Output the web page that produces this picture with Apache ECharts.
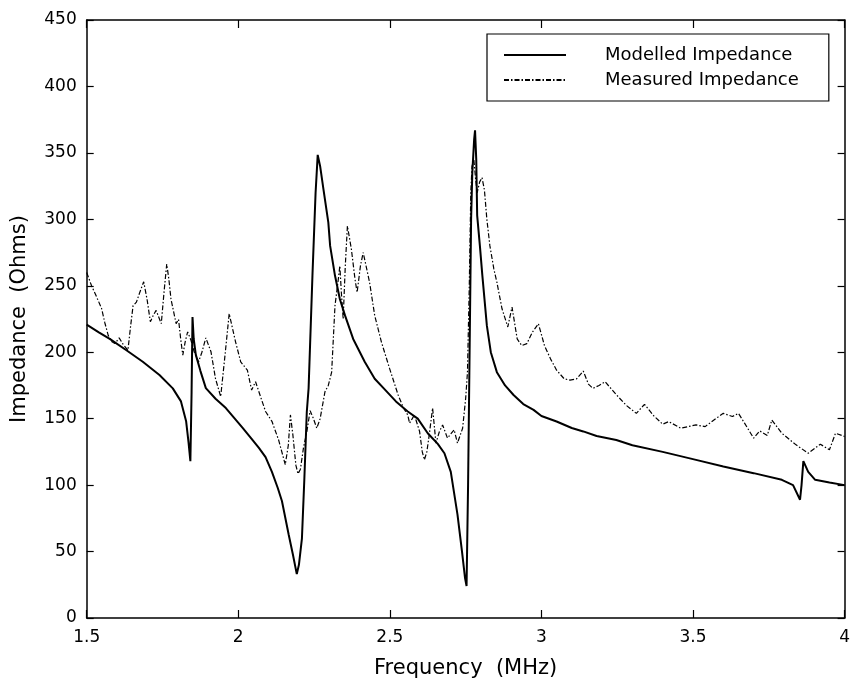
<!DOCTYPE html>
<html>
<head>
<meta charset="utf-8">
<script src="https://cdn.jsdelivr.net/npm/echarts@6/dist/echarts.min.js"></script>
<style>
html,body{margin:0;padding:0;background:#fff;}
#chart{width:853px;height:684px;}
</style>
</head>
<body>
<div id="chart"></div>
<script>
// Frequency ticks and impedance ticks
const xTicks = [1.5, 2, 2.5, 3, 3.5, 4];
const yTicks = [0, 50, 100, 150, 200, 250, 300, 350, 400, 450];

const seriesNames = ['Modelled Impedance', 'Measured Impedance'];

// Modelled impedance (MHz, Ohms)
const modelledFreq = [1.500,1.540,1.576,1.631,1.685,1.740,1.784,1.811,1.828,1.836,1.842,1.846,1.849,1.853,1.860,1.875,1.893,1.925,1.959,2.013,2.040,2.068,2.090,2.111,2.130,2.144,2.166,2.180,2.193,2.200,2.210,2.218,2.226,2.232,2.245,2.255,2.262,2.270,2.281,2.297,2.303,2.319,2.335,2.352,2.379,2.417,2.450,2.483,2.520,2.559,2.592,2.625,2.658,2.680,2.701,2.723,2.738,2.748,2.753,2.758,2.763,2.768,2.772,2.778,2.781,2.785,2.788,2.797,2.805,2.820,2.833,2.853,2.880,2.908,2.940,2.974,3.000,3.050,3.100,3.138,3.182,3.247,3.300,3.400,3.510,3.600,3.700,3.793,3.830,3.853,3.858,3.864,3.880,3.903,3.950,4.000];
const modelledZ = [220.7,215,210,201.5,192.8,182.8,172.8,163,148,132,118,170,226.5,210,198,186,173,165,158,143.5,136,128,121,110,98,88,63,48,33,40,60,105,155,173,260,320,348.5,340,322.6,297.7,280,257.7,240,227.7,210,192.8,180,172,163,155.4,150,139,131,124,110,78,50,30,24,100,200,300,335,360,367,345,303,280,258,220,200,185,175,167.8,161,156.6,152,147.9,143,140.4,137,134,130,125,119,114,109,104,100,89,100,118,110,104,102,100];

// Measured impedance (MHz, Ohms)
const measuredFreq = [1.500,1.516,1.530,1.549,1.560,1.571,1.582,1.593,1.607,1.620,1.636,1.645,1.653,1.664,1.675,1.688,1.699,1.710,1.720,1.729,1.746,1.755,1.764,1.771,1.778,1.795,1.803,1.810,1.817,1.825,1.833,1.844,1.855,1.869,1.880,1.893,1.910,1.925,1.942,1.955,1.970,1.991,2.008,2.030,2.044,2.057,2.068,2.079,2.090,2.111,2.133,2.155,2.165,2.172,2.180,2.190,2.197,2.205,2.215,2.226,2.237,2.248,2.259,2.270,2.286,2.297,2.308,2.319,2.330,2.335,2.340,2.346,2.353,2.360,2.373,2.385,2.392,2.403,2.412,2.433,2.450,2.472,2.499,2.527,2.545,2.559,2.565,2.581,2.598,2.607,2.614,2.622,2.630,2.641,2.652,2.663,2.674,2.690,2.712,2.723,2.740,2.750,2.756,2.762,2.767,2.771,2.777,2.783,2.788,2.796,2.804,2.812,2.820,2.830,2.843,2.853,2.870,2.889,2.903,2.920,2.935,2.952,2.970,2.990,3.010,3.030,3.050,3.075,3.094,3.116,3.138,3.155,3.170,3.190,3.210,3.247,3.280,3.313,3.340,3.370,3.400,3.420,3.460,3.510,3.540,3.575,3.600,3.630,3.650,3.670,3.700,3.720,3.745,3.760,3.793,3.840,3.880,3.920,3.950,3.970,4.000];
const measuredZ = [260,250,243,233,222,212.7,208,206.5,210.8,206,201.5,220,235,237.7,245,253,240,223,228,231.5,221.5,245,266.4,255,240,221.5,224.7,210,197.8,208,215.3,209,200,192.8,200,210.8,200.3,180,166.6,195,229,207.8,192.8,186.5,171.5,177.8,170.3,162.8,155.4,148,134,115.4,130,152.8,138,115,108.5,112,128,140,156,150,142.8,150,170.3,175,185,235,255,265,245,225,265,295,277.7,255,245,265,275,252.7,227.7,207.8,187.8,168,158,152.8,146.6,152.8,140.4,125,119,125,138,158,131.6,140,145.3,135.4,141.6,131.6,142.8,165,185,250,320,340,345,330,320,328,331.4,322,300,280,262.7,252.7,232.7,219,234,210,205,206.5,215,221.5,205,195,186.5,180,179,180,185.8,176,172.8,175,177.8,168,160,154,160.8,152.3,145.8,147.8,142.8,145.3,144,150,154,151.6,154,146.6,135.3,140.8,137.4,149,139,130.3,124,130.8,126.6,139,136.6];

function zip(a, b) { return a.map((v, i) => [v, b[i]]); }

const FONT = 'DejaVu Sans';
const chart = echarts.init(document.getElementById('chart'), null, {renderer: 'canvas'});

const baseX = {
  type: 'value', min: xTicks[0], max: xTicks[xTicks.length - 1], interval: xTicks[1] - xTicks[0],
  splitLine: {show: false},
  axisLine: {show: true, onZero: false, lineStyle: {color: '#000', width: 1.5}},
  axisTick: {show: true, inside: true, length: 8, lineStyle: {color: '#000', width: 1.2}}
};
const baseY = {
  type: 'value', min: yTicks[0], max: yTicks[yTicks.length - 1], interval: yTicks[1] - yTicks[0],
  splitLine: {show: false},
  axisLine: {show: true, onZero: false, lineStyle: {color: '#000', width: 1.5}},
  axisTick: {show: true, inside: true, length: 7, lineStyle: {color: '#000', width: 1.2}}
};

chart.setOption({
  animation: false,
  backgroundColor: '#fff',
  textStyle: {fontFamily: FONT, color: '#000'},
  grid: {left: 86.7, right: 4.5, top: 20, bottom: 63.3, containLabel: false},
  legend: {
    orient: 'vertical',
    left: 487, top: 34,
    padding: [12, 30, 12, 16],
    itemGap: 7,
    itemWidth: 62, itemHeight: 14,
    borderColor: '#000', borderWidth: 1.2, borderRadius: 0,
    backgroundColor: '#fff',
    selectedMode: false,
    itemStyle: {opacity: 0, borderWidth: 0},
    data: seriesNames,
    textStyle: {fontFamily: FONT, fontSize: 18, color: '#000', padding: [0, 0, 0, 34]}
  },
  xAxis: [
    Object.assign({}, baseX, {
      position: 'bottom',
      name: 'Frequency  (MHz)', nameLocation: 'middle', nameGap: 40,
      nameTextStyle: {fontFamily: FONT, fontSize: 21, color: '#000'},
      axisLabel: {show: true, margin: 11, fontFamily: FONT, fontSize: 17, color: '#000'}
    }),
    Object.assign({}, baseX, {position: 'top', axisLabel: {show: false}})
  ],
  yAxis: [
    Object.assign({}, baseY, {
      position: 'left',
      name: 'Impedance  (Ohms)', nameLocation: 'middle', nameGap: 57,
      nameTextStyle: {fontFamily: FONT, fontSize: 21, color: '#000'},
      axisLabel: {show: true, margin: 10, fontFamily: FONT, fontSize: 17, color: '#000'}
    }),
    Object.assign({}, baseY, {position: 'right', axisLabel: {show: false}})
  ],
  series: [
    {
      name: seriesNames[0], type: 'line', xAxisIndex: 0, yAxisIndex: 0,
      data: zip(modelledFreq, modelledZ),
      symbol: 'none', showSymbol: false, smooth: false,
      lineStyle: {color: '#000', width: 2, type: 'solid'},
      itemStyle: {color: '#000'},
      z: 3
    },
    {
      name: seriesNames[1], type: 'line', xAxisIndex: 0, yAxisIndex: 0,
      data: zip(measuredFreq, measuredZ),
      symbol: 'none', showSymbol: false, smooth: false,
      lineStyle: {color: '#000', width: 1.2, type: [5, 2, 1.5, 2]},
      itemStyle: {color: '#000'},
      z: 2
    }
  ]
});
</script>
</body>
</html>
